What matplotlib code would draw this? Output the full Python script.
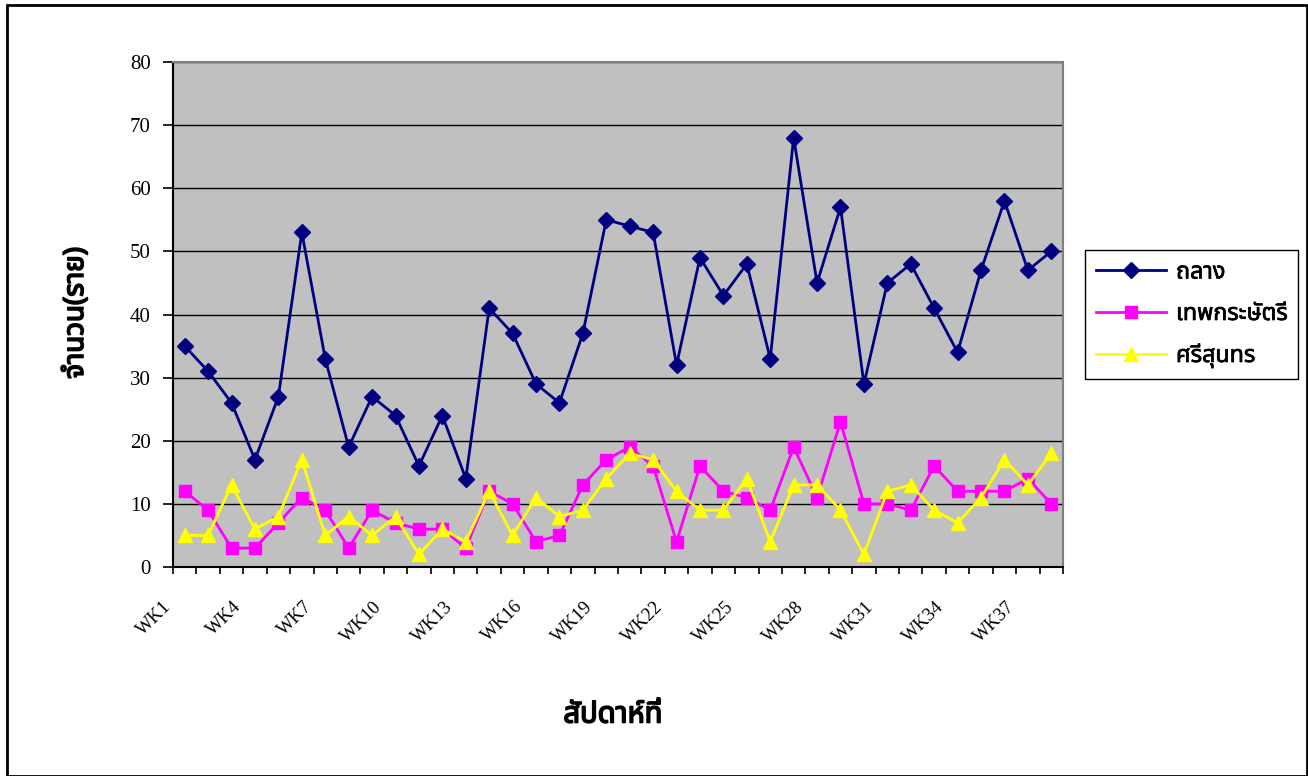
import matplotlib
matplotlib.use("Agg")
import matplotlib.pyplot as plt
from matplotlib import font_manager as fm
from matplotlib.ft2font import FT2Font
from matplotlib.patches import Rectangle
from matplotlib.transforms import ScaledTranslation
import matplotlib.patheffects as pe

# ---------------- data ----------------
weeks = [f"WK{i}" for i in range(1, 39)]
thalang = [35, 31, 26, 17, 27, 53, 33, 19, 27, 24, 16, 24, 14, 41, 37, 29, 26, 37, 55,
           54, 53, 32, 49, 43, 48, 33, 68, 45, 57, 29, 45, 48, 41, 34, 47, 58, 47, 50]
thepkrasattri = [12, 9, 3, 3, 7, 11, 9, 3, 9, 7, 6, 6, 3, 12, 10, 4, 5, 13, 17,
                 19, 16, 4, 16, 12, 11, 9, 19, 11, 23, 10, 10, 9, 16, 12, 12, 12, 14, 10]
srisunthon = [5, 5, 13, 6, 8, 17, 5, 8, 5, 8, 2, 6, 4, 12, 5, 11, 8, 9, 14,
              18, 17, 12, 9, 9, 14, 4, 13, 13, 9, 2, 12, 13, 9, 7, 11, 17, 13, 18]
series_names = ["ถลาง", "เทพกระษัตรี", "ศรีสุนทร"]
y_ticks = [0, 10, 20, 30, 40, 50, 60, 70, 80]
y_label = "จำนวน(ราย)"
x_label = "สัปดาห์ที่"


# ---------------- fonts ----------------
def find_thai_families():
    found = {}
    for f in fm.fontManager.ttflist:
        try:
            cm = FT2Font(f.fname).get_charmap()
        except Exception:
            continue
        if 0x0E01 in cm and 0x0E32 in cm and 0x0E17 in cm:
            found.setdefault(f.name, set()).add(f.weight)
    return found


thai = find_thai_families()
pref = ["Noto Sans Thai", "Noto Sans Thai UI", "Tahoma", "Loma", "Garuda",
        "Noto Serif Thai", "Norasi", "Kinnari"]
names = [p for p in pref if p in thai] + [t for t in thai if t not in pref]
thai_fam = (names[:1] if names else []) + ["DejaVu Sans"]
has_bold = bool(names) and any(
    (w if isinstance(w, int) else 700 if w == "bold" else 400) >= 600
    for w in thai[names[0]])
serif = ["Liberation Serif", "DejaVu Serif"]

plt.rcParams["font.family"] = thai_fam

# ---------------- figure ----------------
W, H = 1308, 776
fig = plt.figure(figsize=(W / 100, H / 100), dpi=100)
fig.patch.set_facecolor("white")

ax = fig.add_axes([173 / W, 1 - 567 / H, (1063 - 173) / W, (567 - 62) / H])
ax.set_facecolor("#C0C0C0")

x = list(range(len(weeks)))
ax.plot(x, thalang, color="#000080", lw=2.0, marker="D", ms=8.5,
        mfc="#000080", mec="#000080", label=series_names[0], zorder=4)
ax.plot(x, thepkrasattri, color="#FF00FF", lw=2.0, marker="s", ms=9,
        mfc="#FF00FF", mec="#FF00FF", label=series_names[1], zorder=3)
ax.plot(x, srisunthon, color="#FFFF00", lw=2.0, marker="^", ms=10.5,
        mfc="#FFFF00", mec="#FFFF00", label=series_names[2], zorder=3)

n = len(weeks)
ax.set_xlim(-0.5, n - 0.5)
ax.set_ylim(y_ticks[0], y_ticks[-1])

# grid
ax.set_yticks(y_ticks)
ax.yaxis.grid(True, color="black", lw=1.0)
ax.set_axisbelow(True)

# spines
for s in ["top", "right"]:
    ax.spines[s].set_color("#808080")
    ax.spines[s].set_linewidth(1.5)
for s in ["left", "bottom"]:
    ax.spines[s].set_color("black")
    ax.spines[s].set_linewidth(1.5)

# y ticks
ax.tick_params(axis="y", direction="out", length=7, width=1.2, pad=9,
               labelsize=15, labelfontfamily=serif)

# x ticks: boundaries as minor ticks, labels every 3rd category
ax.set_xticks([i - 0.5 for i in range(n + 1)], minor=True)
ax.tick_params(axis="x", which="minor", direction="out", length=5, width=1.2)
major = list(range(0, n, 3))
ax.set_xticks(major)
ax.set_xticklabels([weeks[i] for i in major], rotation=45, ha="right",
                   va="center", rotation_mode="anchor")
ax.tick_params(axis="x", which="major", length=0, pad=0, labelsize=13.5,
               labelfontfamily=serif)
for lab in ax.get_xticklabels():
    lab.set_transform(lab.get_transform() +
                      ScaledTranslation(-16 / 100, -37 / 100, fig.dpi_scale_trans))

# axis labels (faux bold if no bold face available)
bold_fx = [] if has_bold else [pe.withStroke(linewidth=1.2, foreground="black")]
fig.text(76 / W, 1 - 313 / H, y_label, rotation=90, ha="center", va="center",
         fontsize=20, fontweight="bold", family=thai_fam, path_effects=bold_fx)
fig.text(613 / W, 1 - 715 / H, x_label, ha="center", va="center",
         fontsize=21, fontweight="bold", family=thai_fam, path_effects=bold_fx)

# legend
leg = ax.legend(loc="upper left", bbox_to_anchor=(1085 / W, 1 - 250 / H),
                bbox_transform=fig.transFigure, frameon=True, fancybox=False,
                edgecolor="black", framealpha=1, borderpad=0.45,
                handlelength=3.0, handletextpad=0.45, labelspacing=0.75,
                prop={"family": thai_fam, "size": 16.8},
                borderaxespad=0)
leg.get_frame().set_linewidth(1.0)
for t in leg.get_texts():
    t.set_path_effects([pe.withStroke(linewidth=0.5, foreground="black")])

# figure border
fig.patches.append(Rectangle((7 / W, 0.0), (1307 - 7) / W, 1 - 5 / H,
                             transform=fig.transFigure, fill=False,
                             edgecolor="black", lw=2.0))

fig.savefig("out.png", dpi=100)
